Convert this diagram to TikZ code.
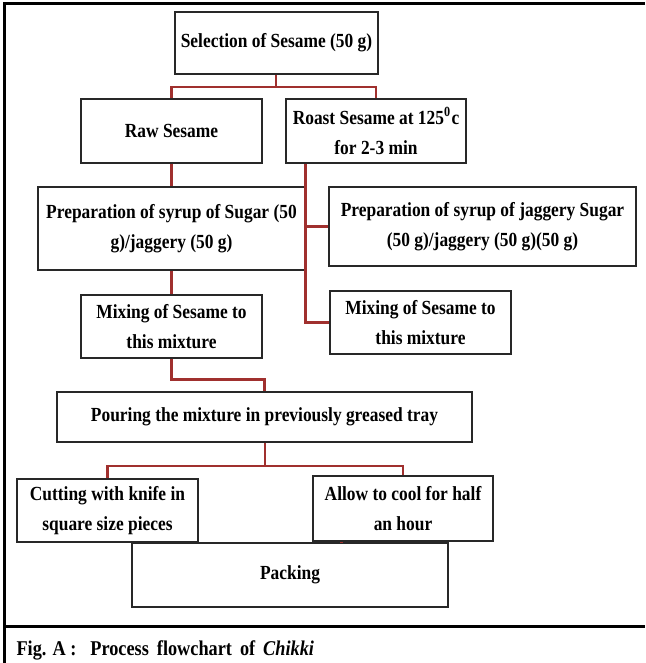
\documentclass[tikz,border=0pt]{standalone}
\usepackage{fontspec}
\setmainfont[FakeStretch=0.87]{Liberation Serif}
\usetikzlibrary{positioning}
\usetikzlibrary{calc}
\usetikzlibrary{shadows}
\definecolor{linkred}{RGB}{160,48,46}
\definecolor{boxline}{RGB}{40,40,40}

\begin{document}
\begin{tikzpicture}[x=1pt, y=-1pt,
    every node/.style={font=\fontsize{20}{30}\selectfont\bfseries},
    stepbox/.style={draw=boxline, line width=1.2pt, fill=white, align=center, inner sep=0pt,
        drop shadow={shadow xshift=1.2pt, shadow yshift=-1.2pt, fill=black!35}},
    link/.style={draw=linkred, line width=2.8pt}]
    \useasboundingbox (0,0) rectangle (645,663);

    \node[stepbox, minimum width=203, minimum height=62] (sel) at (276.5,43) {Selection of Sesame (50 g)};
    \node[stepbox, minimum width=181, minimum height=64] (raw) at (171.5,131) {Raw Sesame};
    \node[stepbox, minimum width=180, minimum height=64] (roast) at (376,131) {Roast Sesame at 125$^{\mathbf{0}}$c\\for 2-3 min};
    \node[stepbox, minimum width=267, minimum height=83] (sugar) at (171.5,228.5) {Preparation of syrup of Sugar (50\\g)/jaggery (50 g)};
    \node[stepbox, minimum width=307, minimum height=79] (jag) at (482.5,226.5) {Preparation of syrup of jaggery Sugar\\(50 g)/jaggery (50 g)(50 g)};
    \node[stepbox, minimum width=181, minimum height=63] (mixa) at (171.5,326.5) {Mixing of Sesame to\\this mixture};
    \node[stepbox, minimum width=181, minimum height=63] (mixb) at (420.5,322.5) {Mixing of Sesame to\\this mixture};
    \node[stepbox, minimum width=415, minimum height=50] (pour) at (264.5,417) {Pouring the mixture in previously greased tray};
    \node[stepbox, minimum width=181, minimum height=63] (cut) at (107.5,510.5) {Cutting with knife in\\square size pieces};
    \node[stepbox, minimum width=180, minimum height=65] (cool) at (403,508.5) {Allow to cool for half\\an hour};
    \node[stepbox, minimum width=316, minimum height=64] (pack) at (290,575) {Packing};

    \coordinate (sj) at (276,87);
    \draw[link] (sel.south -| sj) -- (sj);
    \draw[link] (raw.north) |- (sj) -| (roast.north);
    \draw[link] (raw.south) -- (sugar.north);
    \draw[link] (roast.south -| sugar.east) |- (mixb.west);
    \draw[link] (sugar.east |- jag.west) -- (jag.west);
    \draw[link] (sugar.south) -- (mixa.north);
    \draw[link] (mixa.south) |- ($(pour.north)+(0,-12)$) -- (pour.north);
    \coordinate (pj) at (265,466);
    \draw[link] (pour.south -| pj) -- (pj);
    \draw[link] (cut.north) |- (pj) -| (cool.north);
    \draw[link] ([xshift=29pt]cool.south west) -- ([xshift=29pt]cool.south west |- pack.north);

    \draw[line width=3pt] (645,4) -- (4,4) -- (4,663);
    \draw[line width=3pt] (4,626) -- (645,626);
    \node[anchor=base west, font=\fontsize{21}{24}\selectfont\bfseries] (cap) at (13,655)
        {Fig. A :\hspace{14pt}Process\hspace{8pt}flowchart\hspace{8pt}of\hspace{8pt}\textit{Chikki}};
\end{tikzpicture}
\end{document}
